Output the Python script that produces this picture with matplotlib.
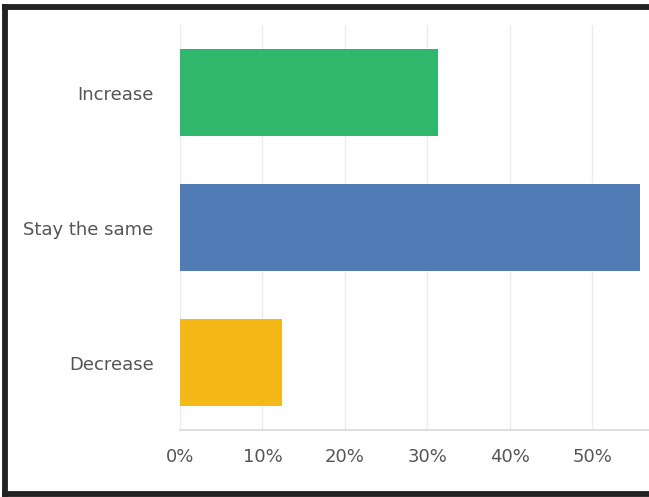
import matplotlib
matplotlib.use("Agg")
import matplotlib.pyplot as plt
from matplotlib.lines import Line2D
from matplotlib.ticker import FuncFormatter

# answer choices, top to bottom, and their share of responses (%)
choices = ["Increase", "Stay the same", "Decrease"]
shares = [31.3, 55.8, 12.4]
colors = ["#2fb76b", "#517bb5", "#f5b819"]
ticks = [0, 10, 20, 30, 40, 50]

fig = plt.figure(figsize=(6.49, 4.97), dpi=100)
ax = fig.add_axes([180 / 649, 1 - 430 / 497, 1 - 180 / 649, 405 / 497])

ypos = list(range(len(choices)))
ax.barh(ypos, shares, height=0.64, color=colors, zorder=2)

ax.set_yticks(ypos)
ax.set_yticklabels(choices)
ax.set_xticks(ticks)
ax.xaxis.set_major_formatter(FuncFormatter(lambda v, p: f"{v:.0f}%"))
ax.set_ylim(2.5, -0.5)
ax.set_xlim(0, 56.9)

ax.grid(axis="x", color="#ebebeb", linewidth=1.0, zorder=0)
for side in ["top", "right", "left"]:
    ax.spines[side].set_visible(False)
ax.spines["bottom"].set_color("#d8d8e0")
ax.spines["bottom"].set_linewidth(1.2)
ax.tick_params(axis="both", length=0, labelcolor="#555555", labelsize=13)
ax.tick_params(axis="x", pad=13)
ax.tick_params(axis="y", pad=19)
for lbl in ax.get_xticklabels() + ax.get_yticklabels():
    lbl.set_fontfamily("DejaVu Sans")

# dark frame around the chart (left, top, bottom)
frame = dict(color="#222222", linewidth=4.2, solid_capstyle="projecting")
W, H = 649, 497
fig.add_artist(Line2D([5 / W, 5 / W], [1 - 7 / H, 1 - 494 / H], transform=fig.transFigure, **frame))
fig.add_artist(Line2D([5 / W, 1.0], [1 - 7 / H, 1 - 7 / H], transform=fig.transFigure, **frame))
fig.add_artist(Line2D([5 / W, 1.0], [1 - 494 / H, 1 - 494 / H], transform=fig.transFigure, **frame))

fig.savefig("out.png", dpi=100)
